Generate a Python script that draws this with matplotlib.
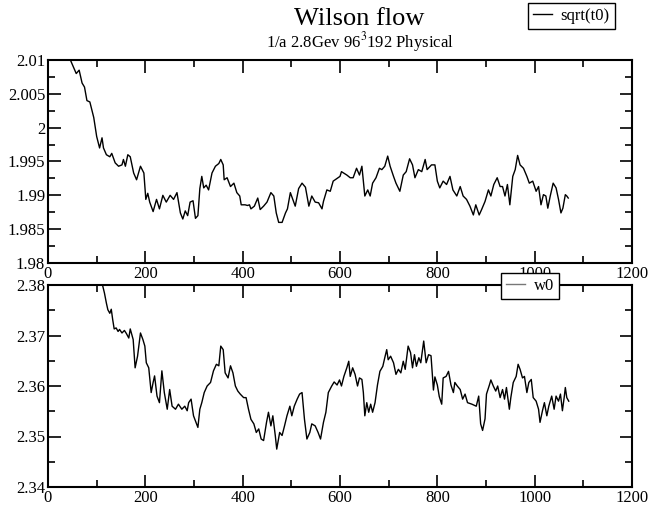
import numpy as np
import matplotlib
matplotlib.use("Agg")
import matplotlib.pyplot as plt
import matplotlib.ticker as ticker

plt.rcParams['font.family'] = ['Liberation Serif', 'DejaVu Serif']
plt.rcParams['mathtext.fontset'] = 'stix'

# --- sqrt(t0) series ---
t0_x = [0, 20, 35, 46, 58, 64, 70, 75, 80, 86, 94, 100, 106, 111, 114, 120, 127, 131, 138, 145,
        152, 155, 159, 164, 169, 176, 182, 190, 197, 201, 205, 209, 216, 223, 229, 236, 243, 251,
        258, 265, 272, 277, 282, 287, 292, 298, 303, 308, 312, 316, 320, 325, 330, 337, 344, 351,
        355, 360, 362, 368, 375, 382, 388, 394, 397, 405, 410, 414, 417, 424, 431, 436, 443, 450,
        458, 464, 469, 474, 481, 488, 492, 498, 503, 508, 515, 522, 529, 536, 542, 549, 556, 563,
        566, 573, 580, 586, 600, 603, 614, 621, 627, 634, 640, 645, 651, 657, 662, 667, 674, 681,
        686, 692, 698, 703, 710, 715, 723, 730, 736, 743, 749, 754, 761, 768, 775, 779, 788, 795,
        800, 805, 812, 819, 826, 832, 840, 847, 853, 860, 867, 874, 879, 886, 891, 898, 905, 910,
        916, 923, 929, 934, 939, 944, 949, 955, 960, 965, 970, 977, 984, 989, 996, 1003, 1008,
        1013, 1018, 1023, 1027, 1032, 1038, 1044, 1049, 1054, 1058, 1063, 1066, 1069]
t0_y = [2.0145, 2.0130, 2.0115, 2.0100, 2.0080, 2.0085, 2.0066, 2.0060, 2.0040, 2.0038, 2.0015,
        1.9987, 1.9970, 1.9985, 1.9970, 1.9960, 1.9957, 1.9962, 1.9948, 1.9943, 1.9945, 1.9953,
        1.9943, 1.9960, 1.9957, 1.9933, 1.9923, 1.9943, 1.9933, 1.9894, 1.9903, 1.9890, 1.9876,
        1.9894, 1.9880, 1.9900, 1.9890, 1.9900, 1.9894, 1.9904, 1.9874, 1.9865, 1.9877, 1.9870,
        1.9890, 1.9892, 1.9866, 1.9870, 1.9910, 1.9928, 1.9911, 1.9915, 1.9908, 1.9933, 1.9943,
        1.9947, 1.9953, 1.9945, 1.9923, 1.9926, 1.9913, 1.9918, 1.9904, 1.9899, 1.9886, 1.9886,
        1.9885, 1.9886, 1.9880, 1.9884, 1.9896, 1.9879, 1.9884, 1.9890, 1.9904, 1.9899, 1.9874,
        1.9860, 1.9860, 1.9874, 1.9880, 1.9904, 1.9894, 1.9884, 1.9910, 1.9918, 1.9912, 1.9884,
        1.9899, 1.9890, 1.9889, 1.9880, 1.9891, 1.9908, 1.9906, 1.9921, 1.9928, 1.9935, 1.9930,
        1.9926, 1.9926, 1.9940, 1.9930, 1.9943, 1.9899, 1.9908, 1.9899, 1.9918, 1.9926, 1.9940,
        1.9938, 1.9943, 1.9958, 1.9943, 1.9928, 1.9918, 1.9906, 1.9930, 1.9935, 1.9954, 1.9945,
        1.9926, 1.9938, 1.9935, 1.9953, 1.9938, 1.9945, 1.9945, 1.9921, 1.9911, 1.9921, 1.9916,
        1.9928, 1.9908, 1.9899, 1.9913, 1.9899, 1.9894, 1.9884, 1.9871, 1.9886, 1.9871, 1.9879,
        1.9891, 1.9908, 1.9899, 1.9916, 1.9926, 1.9913, 1.9913, 1.9899, 1.9916, 1.9886, 1.9928,
        1.9938, 1.9959, 1.9945, 1.9940, 1.9928, 1.9918, 1.9921, 1.9906, 1.9913, 1.9886, 1.9901,
        1.9899, 1.9881, 1.9899, 1.9918, 1.9911, 1.9894, 1.9874, 1.9881, 1.9901, 1.9899, 1.9896]

# --- w0 series ---
w0_x = [0, 40, 80, 100, 112, 116, 120, 123, 127, 130, 133, 136, 140, 144, 147, 152, 157, 161, 166,
        169, 175, 179, 184, 190, 195, 199, 202, 207, 212, 216, 219, 224, 229, 234, 239, 245, 250,
        255, 262, 268, 275, 281, 286, 289, 294, 299, 304, 308, 312, 316, 321, 327, 334, 340, 346,
        351, 355, 360, 364, 370, 375, 380, 385, 390, 395, 402, 407, 412, 417, 423, 428, 433, 438,
        443, 449, 453, 458, 462, 467, 470, 476, 481, 486, 491, 497, 501, 506, 512, 517, 522, 527,
        532, 538, 542, 549, 555, 560, 566, 571, 576, 583, 588, 594, 599, 603, 608, 614, 618, 621,
        626, 631, 636, 640, 645, 648, 651, 655, 659, 663, 667, 672, 677, 682, 688, 692, 696, 699,
        704, 710, 715, 720, 725, 730, 734, 740, 745, 749, 753, 757, 762, 766, 772, 777, 782, 787,
        792, 795, 800, 804, 809, 812, 818, 823, 828, 833, 836, 841, 847, 852, 857, 862, 871, 880,
        885, 889, 893, 898, 901, 907, 910, 915, 920, 924, 929, 934, 938, 942, 948, 951, 956, 962,
        966, 970, 975, 979, 984, 988, 993, 997, 1003, 1008, 1011, 1016, 1020, 1025, 1029, 1035,
        1040, 1044, 1049, 1053, 1057, 1061, 1063, 1066, 1070]
w0_y = [2.398, 2.393, 2.387, 2.384, 2.3800, 2.3784, 2.3764, 2.3751, 2.3744, 2.3752, 2.3731, 2.3713,
        2.3715, 2.3708, 2.3712, 2.3705, 2.3710, 2.3704, 2.3695, 2.3713, 2.3692, 2.3636, 2.3659,
        2.3705, 2.3692, 2.3679, 2.3646, 2.3636, 2.3587, 2.3607, 2.3620, 2.3580, 2.3567, 2.3630,
        2.3587, 2.3554, 2.3593, 2.3560, 2.3554, 2.3564, 2.3554, 2.3560, 2.3551, 2.3567, 2.3574,
        2.3541, 2.3528, 2.3518, 2.3554, 2.3567, 2.3587, 2.3600, 2.3607, 2.3630, 2.3643, 2.3640,
        2.3679, 2.3672, 2.3626, 2.3616, 2.3640, 2.3626, 2.3600, 2.3590, 2.3584, 2.3577, 2.3577,
        2.3554, 2.3534, 2.3525, 2.3508, 2.3515, 2.3495, 2.3492, 2.3528, 2.3548, 2.3521, 2.3541,
        2.3502, 2.3475, 2.3508, 2.3502, 2.3521, 2.3541, 2.3560, 2.3541, 2.3560, 2.3574, 2.3584,
        2.3587, 2.3534, 2.3495, 2.3508, 2.3525, 2.3521, 2.3508, 2.3495, 2.3528, 2.3548, 2.3587,
        2.3600, 2.3608, 2.3602, 2.3612, 2.3600, 2.3619, 2.3636, 2.3649, 2.3619, 2.3636, 2.3623,
        2.3600, 2.3616, 2.3613, 2.3587, 2.3541, 2.3567, 2.3548, 2.3564, 2.3548, 2.3567, 2.3602,
        2.3629, 2.3639, 2.3656, 2.3672, 2.3652, 2.3659, 2.3646, 2.3623, 2.3633, 2.3626, 2.3649,
        2.3633, 2.3679, 2.3666, 2.3636, 2.3662, 2.3639, 2.3656, 2.3646, 2.3689, 2.3646, 2.3662,
        2.3660, 2.3592, 2.3618, 2.3602, 2.3579, 2.3564, 2.3616, 2.3619, 2.3629, 2.3602, 2.3587,
        2.3607, 2.3600, 2.3593, 2.3574, 2.3584, 2.3567, 2.3564, 2.3560, 2.3580, 2.3525, 2.3512,
        2.3535, 2.3584, 2.3602, 2.3612, 2.3600, 2.3590, 2.3600, 2.3577, 2.3593, 2.3574, 2.3597,
        2.3554, 2.3577, 2.3607, 2.3619, 2.3643, 2.3633, 2.3616, 2.3619, 2.3587, 2.3607, 2.3613,
        2.3577, 2.3570, 2.3554, 2.3528, 2.3551, 2.3567, 2.3541, 2.3560, 2.3580, 2.3554, 2.3580,
        2.3570, 2.3584, 2.3551, 2.3580, 2.3597, 2.3577, 2.3570]

title = "Wilson flow"
subtitle = r"1/a 2.8Gev 96$^{3}$192 Physical"
W, H = 648, 505


def style_axes(ax, ylim, ymajor, yminor):
    ax.set_xlim(0, 1200)
    ax.set_ylim(*ylim)
    ax.xaxis.set_major_locator(ticker.MultipleLocator(200))
    ax.xaxis.set_minor_locator(ticker.MultipleLocator(100))
    ax.yaxis.set_major_locator(ticker.MultipleLocator(ymajor))
    ax.yaxis.set_minor_locator(ticker.MultipleLocator(yminor))
    ax.yaxis.set_major_formatter(ticker.FuncFormatter(lambda v, p: f"{v:.4f}".rstrip('0').rstrip('.')))
    ax.tick_params(which='both', direction='in', top=True, right=True,
                   labelsize=12, width=1.2, pad=2)
    ax.tick_params(which='major', length=9)
    ax.tick_params(which='minor', length=5)
    for s in ax.spines.values():
        s.set_linewidth(1.5)


fig = plt.figure(figsize=(W / 100, H / 100), dpi=100)
ax1 = fig.add_axes([48 / W, 1 - 263 / H, 584 / W, 203 / H])
ax2 = fig.add_axes([48 / W, 1 - 487 / H, 584 / W, 202 / H])

l1, = ax1.plot(t0_x, t0_y, color='black', lw=1.0, label='sqrt(t0)')
style_axes(ax1, (1.98, 2.01), 0.005, 0.0025)

l2, = ax2.plot(w0_x, w0_y, color='black', lw=1.0, label='w0')
style_axes(ax2, (2.34, 2.38), 0.01, 0.005)

fig.text(0.555, 1 - 19 / H, title, ha='center', va='center', fontsize=19)
fig.text(0.555, 1 - 42 / H, subtitle, ha='center', va='center', fontsize=12)

leg_kw = dict(frameon=True, fancybox=False, framealpha=1, edgecolor='black',
              fontsize=12, handlelength=1.15, handletextpad=0.5,
              borderpad=0.3, borderaxespad=0)
lg1 = fig.legend(handles=[l1], loc='upper left', bbox_to_anchor=(528 / W, 1 - 3 / H), **leg_kw)
lg2 = fig.legend(handles=[l2], loc='upper left', bbox_to_anchor=(501 / W, 1 - 273 / H), **leg_kw)
lg1.get_frame().set_linewidth(1.0)
lg2.get_frame().set_linewidth(1.0)
lg2.get_lines()[0].set_color('#777777')

fig.savefig("out.png", dpi=100)
